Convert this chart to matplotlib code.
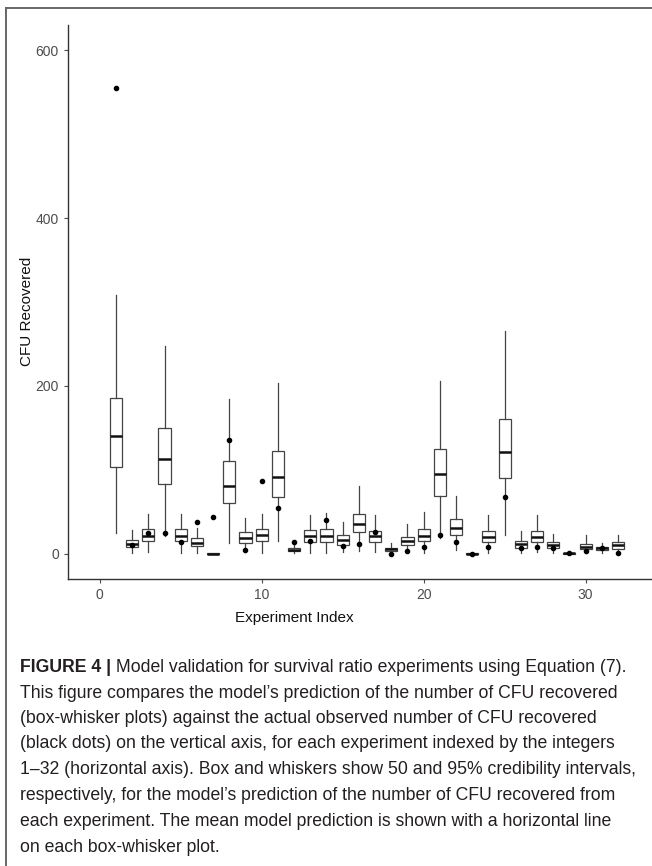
import numpy as np
import matplotlib
matplotlib.use('Agg')
import matplotlib.pyplot as plt
from matplotlib.lines import Line2D

plt.rcParams['font.family'] = ['Liberation Sans', 'DejaVu Sans']

# model prediction summaries per experiment
experiment = list(range(1, 33))
whis_hi = [308, 28, 47, 248, 47, 31, 1, 185, 43, 47, 203, 11, 46, 49, 38, 81,
           46, 13, 35, 50, 206, 69, 1, 46, 265, 27, 46, 24, 3, 22, 13, 23]
q3 = [186, 16, 29, 150, 29, 19, 0.6, 110, 26, 29, 122, 7.5, 28, 29, 22, 48,
      27, 7.5, 20, 30, 125, 42, 0.6, 27, 161, 15, 27, 14, 1.5, 12, 8, 13.5]
med = [140, 11.5, 21, 113, 21, 13, 0.2, 81, 19, 22, 92, 5, 21, 21, 17, 35,
       21, 5.6, 15.5, 21.5, 95, 31, 0.2, 20, 121, 11.5, 20, 10, 0.8, 8.7, 6.7, 10]
q1 = [103, 8, 15, 83, 15, 9, 0, 60, 13, 15, 68, 3, 14, 14, 11, 26,
      14, 3.6, 10, 15, 69, 22, 0, 14, 90, 7, 14, 7, 0.3, 6, 4.4, 6.3]
whis_lo = [25, 1, 1.6, 21, 1, 1, 0, 13, 2, 1, 15.5, 1, 1, 1, 1.6, 3.6,
           1.6, 1.6, 1.6, 1, 19, 4, 0, 1, 22, 1, 1.6, 1, 0, 1, 1, 1]
observed = [555, 11, 25, 25, 13.5, 38.5, 44, 136, 4, 87, 54, 13.5, 15.5, 40, 9.5, 11.5,
            26, 0, 3, 8.7, 22, 14, 0, 8.7, 68, 7.5, 8, 7.5, 1, 3.2, 7.5, 1.2]

y_ticks = [0, 200, 400, 600]
x_ticks = [0, 10, 20, 30]

caption_bold = 'FIGURE 4 |'
caption_first = ' Model validation for survival ratio experiments using Equation (7).'
caption_rest = [
    "This figure compares the model\u2019s prediction of the number of CFU recovered",
    "(box-whisker plots) against the actual observed number of CFU recovered",
    "(black dots) on the vertical axis, for each experiment indexed by the integers",
    "1\u201332 (horizontal axis). Box and whiskers show 50 and 95% credibility intervals,",
    "respectively, for the model\u2019s prediction of the number of CFU recovered from",
    "each experiment. The mean model prediction is shown with a horizontal line",
    "on each box-whisker plot.",
]

W, H = 652, 866
fig = plt.figure(figsize=(W / 100, H / 100), dpi=100)
ax = fig.add_axes([68 / W, 1 - 579 / H, 1 - 68 / W, (579 - 25) / H])

stats = []
for i in range(len(experiment)):
    stats.append(dict(med=med[i], q1=q1[i], q3=q3[i],
                      whislo=whis_lo[i], whishi=whis_hi[i], fliers=[]))

edge = '#444444'
ax.bxp(stats, positions=experiment, widths=0.75, showcaps=False, patch_artist=True,
       boxprops=dict(facecolor='white', edgecolor=edge, linewidth=0.9),
       whiskerprops=dict(color=edge, linewidth=0.9),
       medianprops=dict(color='#111111', linewidth=1.8),
       manage_ticks=False)
ax.plot(experiment, observed, 'o', color='black', markersize=3.0, zorder=5)

ax.set_xlim(-1.96, 34.1)
ax.set_ylim(-30, 630)
ax.set_xticks(x_ticks)
ax.set_yticks(y_ticks)
ax.tick_params(colors='#4d4d4d', labelcolor='#4d4d4d', labelsize=10, length=3, width=0.8)
for s in ['top', 'right']:
    ax.spines[s].set_visible(False)
for s in ['left', 'bottom']:
    ax.spines[s].set_color('#333333')
    ax.spines[s].set_linewidth(1.0)

fig.text(294 / W, 1 - 618 / H, 'Experiment Index', ha='center', va='center',
         fontsize=11, color='#111111')
fig.text(27 / W, 1 - 311 / H, 'CFU Recovered', ha='center', va='center',
         rotation=90, fontsize=11, color='#111111')

# frame around the figure panel
fig.add_artist(Line2D([6 / W, 1], [1 - 8 / H, 1 - 8 / H], color='#666666', lw=1.4))
fig.add_artist(Line2D([6 / W, 6 / W], [0, 1 - 8 / H], color='#666666', lw=1.4))

# caption
cap_size = 12.7
cap_col = '#231f20'
x0 = 20 / W
line_y = [667, 693, 718.5, 744, 770, 796, 821.5, 847]
tb = fig.text(x0, 1 - line_y[0] / H, caption_bold, fontsize=cap_size, fontweight='bold',
              color=cap_col, va='center', ha='left')
r = fig.canvas.get_renderer()
bb = tb.get_window_extent(renderer=r)
fig.text(bb.x1 / W, 1 - line_y[0] / H, caption_first, fontsize=cap_size,
         color=cap_col, va='center', ha='left')
for k, line in enumerate(caption_rest):
    fig.text(x0, 1 - line_y[k + 1] / H, line, fontsize=cap_size,
             color=cap_col, va='center', ha='left')

fig.savefig('out.png', dpi=100)
